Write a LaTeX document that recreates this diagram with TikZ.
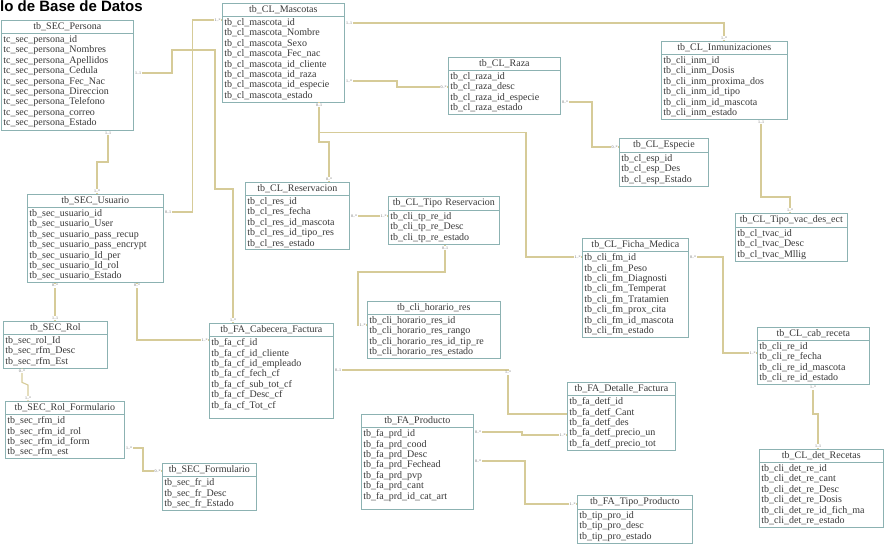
\documentclass[tikz,border=0pt]{standalone}
\usepackage{fontspec}
\setmainfont{Liberation Serif}
\newfontfamily\titlefont{Liberation Sans}
\usepackage{tikz}
\usetikzlibrary{calc,shapes.multipart}
\definecolor{boxline}{RGB}{140,178,178}
\definecolor{tbltext}{RGB}{55,55,55}
\definecolor{relline}{RGB}{214,203,152}
\definecolor{cardtext}{RGB}{105,105,105}
\newcommand{\tblhead}[1]{\hfill#1\hfill\null}

\begin{document}
\begin{tikzpicture}[
		x=1pt, y=-1pt,
		tbl/.style={rectangle split, rectangle split parts=2, draw=boxline, line width=0.7pt, anchor=north west, inner xsep=2pt, inner ysep=2pt, align=left, text=tbltext, font=\fontsize{10}{10.4}\selectfont},
		rel/.style={draw=relline, line width=1.1pt},
		card/.style={font=\fontsize{4}{4}\selectfont, text=cardtext, fill=white, inner sep=0.8pt}
	]
		\useasboundingbox (0,0) rectangle (894,546);
		\node[font=\titlefont\bfseries\fontsize{15}{15}\selectfont, anchor=base west, inner sep=0pt] (title) at (0,11) {lo de Base de Datos};
		\node[tbl, text width=128pt] (persona) at (1,20) {\tblhead{tb\_SEC\_Persona}\nodepart{two}tc\_sec\_persona\_id\\tc\_sec\_persona\_Nombres\\tc\_sec\_persona\_Apellidos\\tc\_sec\_persona\_Cedula\\tc\_sec\_persona\_Fec\_Nac\\tc\_sec\_persona\_Direccion\\tc\_sec\_persona\_Telefono\\tc\_sec\_persona\_correo\\tc\_sec\_persona\_Estado};
		\node[tbl, text width=118pt] (mascotas) at (222,3) {\tblhead{tb\_CL\_Mascotas}\nodepart{two}tb\_cl\_mascota\_id\\tb\_cl\_mascota\_Nombre\\tb\_cl\_mascota\_Sexo\\tb\_cl\_mascota\_Fec\_nac\\tb\_cl\_mascota\_id\_cliente\\tb\_cl\_mascota\_id\_raza\\tb\_cl\_mascota\_id\_especie\\tb\_cl\_mascota\_estado};
		\node[tbl, text width=108pt] (raza) at (448,57) {\tblhead{tb\_CL\_Raza}\nodepart{two}tb\_cl\_raza\_id\\tb\_cl\_raza\_desc\\tb\_cl\_raza\_id\_especie\\tb\_cl\_raza\_estado};
		\node[tbl, text width=122pt] (inmun) at (661,41) {\tblhead{tb\_CL\_Inmunizaciones}\nodepart{two}tb\_cli\_inm\_id\\tb\_cli\_inm\_Dosis\\tb\_cli\_inm\_proxima\_dos\\tb\_cli\_inm\_id\_tipo\\tb\_cli\_inm\_id\_mascota\\tb\_cli\_inm\_estado};
		\node[tbl, text width=85pt] (especie) at (619,138) {\tblhead{tb\_CL\_Especie}\nodepart{two}tb\_cl\_esp\_id\\tb\_cl\_esp\_Des\\tb\_cl\_esp\_Estado};
		\node[tbl, text width=132pt] (usuario) at (27,194) {\tblhead{tb\_SEC\_Usuario}\nodepart{two}tb\_sec\_usuario\_id\\tb\_sec\_usuario\_User\\tb\_sec\_usuario\_pass\_recup\\tb\_sec\_usuario\_pass\_encrypt\\tb\_sec\_usuario\_Id\_per\\tb\_sec\_usuario\_Id\_rol\\tb\_sec\_usuario\_Estado};
		\node[tbl, text width=100pt] (rol) at (3,321) {\tblhead{tb\_SEC\_Rol}\nodepart{two}tb\_sec\_rol\_Id\\tb\_sec\_rfm\_Desc\\tb\_sec\_rfm\_Est};
		\node[tbl, text width=115pt] (rolform) at (5,401) {\tblhead{tb\_SEC\_Rol\_Formulario}\nodepart{two}tb\_sec\_rfm\_id\\tb\_sec\_rfm\_id\_rol\\tb\_sec\_rfm\_id\_form\\tb\_sec\_rfm\_est};
		\node[tbl, text width=90pt] (formulario) at (162,463) {\tblhead{tb\_SEC\_Formulario}\nodepart{two}tb\_sec\_fr\_id\\tb\_sec\_fr\_Desc\\tb\_sec\_fr\_Estado};
		\node[tbl, text width=100pt] (reservacion) at (245,182) {\tblhead{tb\_CL\_Reservacion}\nodepart{two}tb\_cl\_res\_id\\tb\_cl\_res\_fecha\\tb\_cl\_res\_id\_mascota\\tb\_cl\_res\_id\_tipo\_res\\tb\_cl\_res\_estado};
		\node[tbl, text width=107pt] (tiporeserv) at (388,196) {\tblhead{tb\_CL\_Tipo~Reservacion}\nodepart{two}tb\_cli\_tp\_re\_id\\tb\_cli\_tp\_re\_Desc\\tb\_cli\_tp\_re\_estado};
		\node[tbl, text width=129pt] (horario) at (367,301) {\tblhead{tb\_cli\_horario\_res}\nodepart{two}tb\_cli\_horario\_res\_id\\tb\_cli\_horario\_res\_rango\\tb\_cli\_horario\_res\_id\_tip\_re\\tb\_cli\_horario\_res\_estado};
		\node[tbl, text width=120pt] (cabecera) at (209,323) {\tblhead{tb\_FA\_Cabecera\_Factura}\nodepart{two}tb\_fa\_cf\_id\\tb\_fa\_cf\_id\_cliente\\tb\_fa\_cf\_id\_empleado\\tb\_fa\_cf\_fech\_cf\\tb\_fa\_cf\_sub\_tot\_cf\\tb\_fa\_cf\_Desc\_cf\\tb\_fa\_cf\_Tot\_cf\\[-2pt]\mbox{}};
		\node[tbl, text width=108pt] (producto) at (361,414) {\tblhead{tb\_FA\_Producto}\nodepart{two}tb\_fa\_prd\_id\\tb\_fa\_prd\_cood\\tb\_fa\_prd\_Desc\\tb\_fa\_prd\_Fechead\\tb\_fa\_prd\_pvp\\tb\_fa\_prd\_cant\\tb\_fa\_prd\_id\_cat\_art\\[-2pt]\mbox{}};
		\node[tbl, text width=102pt] (ficha) at (582,238) {\tblhead{tb\_CL\_Ficha\_Medica}\nodepart{two}tb\_cli\_fm\_id\\tb\_cli\_fm\_Peso\\tb\_cli\_fm\_Diagnosti\\tb\_cli\_fm\_Temperat\\tb\_cli\_fm\_Tratamien\\tb\_cli\_fm\_prox\_cita\\tb\_cli\_fm\_id\_mascota\\tb\_cli\_fm\_estado};
		\node[tbl, text width=108pt] (tipovac) at (735,213) {\tblhead{tb\_CL\_Tipo\_vac\_des\_ect}\nodepart{two}tb\_cl\_tvac\_id\\tb\_cl\_tvac\_Desc\\tb\_cl\_tvac\_Mllig};
		\node[tbl, text width=108pt] (cabreceta) at (757,327) {\tblhead{tb\_CL\_cab\_receta}\nodepart{two}tb\_cli\_re\_id\\tb\_cli\_re\_fecha\\tb\_cli\_re\_id\_mascota\\tb\_cli\_re\_id\_estado};
		\node[tbl, text width=104pt] (detalle) at (567,382) {\tblhead{tb\_FA\_Detalle\_Factura}\nodepart{two}tb\_fa\_detf\_id\\tb\_fa\_detf\_Cant\\tb\_fa\_detf\_des\\tb\_fa\_detf\_precio\_un\\tb\_fa\_detf\_precio\_tot};
		\node[tbl, text width=120pt] (detrecetas) at (759,449) {\tblhead{tb\_CL\_det\_Recetas}\nodepart{two}tb\_cli\_det\_re\_id\\tb\_cli\_det\_re\_cant\\tb\_cli\_det\_re\_Desc\\tb\_cli\_det\_re\_Dosis\\tb\_cli\_det\_re\_id\_fich\_ma\\tb\_cli\_det\_re\_estado};
		\node[tbl, text width=111pt] (tipoprod) at (577,495) {\tblhead{tb\_FA\_Tipo\_Producto}\nodepart{two}tb\_tip\_pro\_id\\tb\_tip\_pro\_desc\\tb\_tip\_pro\_estado};
		\draw[rel] ($(persona.north east)+(0,53)$) -| node[card, pos=0, anchor=west]{1..1} (172,50) -| (215,189) -| node[card, pos=1, anchor=south]{1..*} ($(cabecera.north west)+(24,0)$);
		\draw[rel] ($(persona.south west)+(107,0)$) |- node[card, pos=0, anchor=north]{1..1} ($(usuario.north west)+(70,-32)$) -- node[card, pos=1, anchor=south]{1..*} ($(usuario.north west)+(70,0)$);
		\draw[rel] ($(mascotas.north west)+(0,17)$) -| node[card, pos=0, anchor=east]{1..*} ($(usuario.north east)+(29,18)$) -- node[card, pos=1, anchor=west]{0..1} ($(usuario.north east)+(0,18)$);
		\draw[rel] ($(usuario.south west)+(28,0)$) -- node[card, pos=0, anchor=north]{0..*} node[card, pos=1, anchor=south]{1..1} ($(rol.north west)+(52,0)$);
		\draw[rel] ($(usuario.south west)+(110,0)$) |- node[card, pos=0, anchor=north]{0..*} node[card, pos=1, anchor=east]{1..*} ($(cabecera.north west)+(0,17)$);
		\draw[rel] ($(rol.south west)+(19,0)$) -- node[card, pos=0, anchor=north]{0..*} ++(0,14) -- ($(rolform.north west)+(23,-16)$) -- node[card, pos=1, anchor=south]{1..*} ($(rolform.north west)+(23,0)$);
		\draw[rel] ($(rolform.north east)+(0,47)$) -| node[card, pos=0, anchor=west]{1..*} ($(formulario.north west)+(-19,8)$) -- node[card, pos=1, anchor=east]{0..*} ($(formulario.north west)+(0,8)$);
		\draw[rel] ($(mascotas.north east)+(0,20)$) -| node[card, pos=0, anchor=west]{1..1} node[card, pos=1, anchor=south]{1..*} ($(inmun.north west)+(63,0)$);
		\draw[rel] ($(mascotas.north east)+(0,78)$) -| node[card, pos=0, anchor=west]{1..*} ($(raza.north west)+(-51,30)$) -- node[card, pos=1, anchor=east]{0..*} ($(raza.north west)+(0,30)$);
		\draw[rel] ($(raza.north east)+(0,45)$) -| node[card, pos=0, anchor=west]{0..*} ($(especie.north west)+(-27,9)$) -- node[card, pos=1, anchor=east]{0..*} ($(especie.north west)+(0,9)$);
		\draw[rel] ($(inmun.south west)+(100,0)$) |- node[card, pos=0, anchor=north]{1..1} ($(tipovac.north west)+(55,-16)$) -- node[card, pos=1, anchor=south]{1..*} ($(tipovac.north west)+(55,0)$);
		\draw[rel] ($(mascotas.south west)+(97,0)$) -- node[card, pos=0, anchor=north]{0..1} ($(mascotas.south west)+(97,30)$) coordinate (mfork) -| ($(ficha.north west)+(-56,19)$) -- node[card, pos=1, anchor=east]{1..*} ($(ficha.north west)+(0,19)$);
		\draw[rel] (mfork) |- ($(reservacion.north west)+(84,-40)$) -- node[card, pos=1, anchor=south]{0..*} ($(reservacion.north west)+(84,0)$);
		\draw[rel] ($(reservacion.north east)+(0,34)$) -- node[card, pos=0, anchor=west]{0..*} node[card, pos=1, anchor=east]{1..*} ($(tiporeserv.north west)+(0,20)$);
		\draw[rel] ($(tiporeserv.south west)+(57,0)$) |- node[card, pos=0, anchor=north]{0..1} ($(horario.north west)+(-9,-29)$) |- node[card, pos=1, anchor=east]{1..*} ($(horario.north west)+(0,24)$);
		\draw[rel] ($(cabecera.north east)+(0,47)$) -| node[card, pos=0, anchor=west]{0..1} node[card, pos=0.5, anchor=north]{1..*} ($(detalle.north west)+(-59,32)$) -- ($(detalle.north west)+(0,32)$);
		\draw[rel] ($(producto.north east)+(0,18)$) -| node[card, pos=0, anchor=west]{0..*} ($(detalle.north west)+(-45,53)$) -- node[card, pos=1, anchor=east]{1..*} ($(detalle.north west)+(0,53)$);
		\draw[rel] ($(producto.north east)+(0,47)$) -| node[card, pos=0, anchor=west]{0..*} ($(tipoprod.north west)+(-52,9)$) -- node[card, pos=1, anchor=east]{1..*} ($(tipoprod.north west)+(0,9)$);
		\draw[rel] ($(ficha.north east)+(0,19)$) -| node[card, pos=0, anchor=west]{0..*} ($(cabreceta.north west)+(-34,26)$) -- node[card, pos=1, anchor=east]{1..*} ($(cabreceta.north west)+(0,26)$);
		\draw[rel] ($(cabreceta.south west)+(56,0)$) -- node[card, pos=0, anchor=north]{1..*} ($(detrecetas.north west)+(54,-35)$) -| ($(detrecetas.north west)+(59,-33)$) -- node[card, pos=1, anchor=south]{1..1} ($(detrecetas.north west)+(59,0)$);
	\end{tikzpicture}
\end{document}
